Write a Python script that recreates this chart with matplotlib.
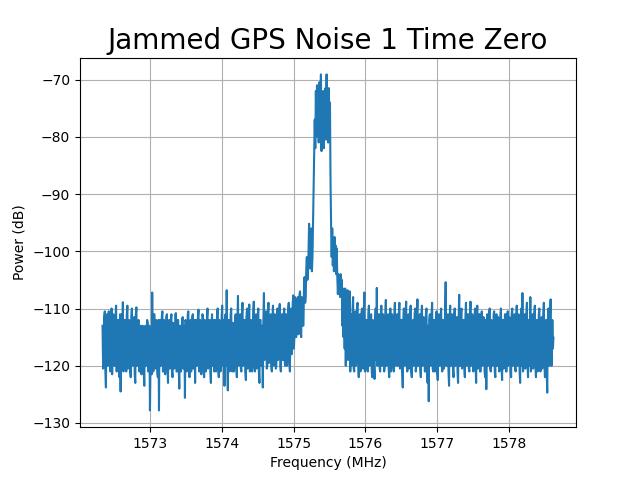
import numpy as np
import matplotlib
matplotlib.use("Agg")
import matplotlib.pyplot as plt

# Frequency span of the sampled spectrum (MHz)
freq_start = 1572.34
freq_stop = 1578.62

# Power readings (dB), left noise floor: ~1572.34 - 1575.16 MHz
noise_left = [
    -113, -120.5, -119, -111.5, -110.5, -121, -123.8, -112, -111, -120, -118, -110.5, -112, -119.5, -121, -112.5, -110, -121.5, -117, -111,
    -113, -120, -120, -111.5, -109.5, -121, -118, -112, -112, -120.5, -122, -111, -124.5, -113, -111, -120, -108.9, -121, -119, -112,
    -112, -120, -121, -111, -109.5, -120.5, -118, -112, -113, -121, -122, -111.5, -110, -120, -119, -112, -111.5, -121.5, -123, -111,
    -109.8, -120, -117, -112.5, -112, -121, -121, -113, -114, -121.5, -120, -113, -115, -121, -123.5, -113.5, -113, -120, -119, -112,
    -112.5, -121, -120, -113, -127.8, -119, -114, -121.5, -107.2, -120, -121, -111, -111, -120.5, -118, -112, -113, -121, -122, -112,
    -127.8, -113, -112, -120, -119, -111.5, -110.5, -121, -121, -112, -114, -121.5, -118, -111.5, -111, -120, -123, -112.5, -112, -120.5,
    -119, -112, -111, -121, -122, -112.5, -113, -120.5, -118, -111, -110.8, -121, -121, -112, -112, -120, -124, -113, -114, -121,
    -119, -112, -111.5, -120.5, -120, -113, -125.6, -112, -113, -121, -118, -111, -110.5, -120, -122, -112.5, -112, -121, -120, -111.5,
    -111, -120.5, -117, -112, -123, -113, -112, -120, -119, -111.5, -110.2, -121, -121, -112, -113, -121.5, -118, -111, -111.5, -120,
    -122, -112, -114, -121, -120, -111.5, -110, -120.5, -119, -112, -112, -121, -123, -113, -111, -120, -117, -112, -121, -112.5,
    -112, -121, -118, -111, -110, -120.5, -122, -112, -113, -121, -120, -111.5, -109.5, -120, -117, -112, -123.5, -113, -111, -120,
    -106.8, -119, -124.3, -112, -112, -121, -119, -111, -110, -120.5, -121, -112.5, -113, -121, -118, -111.5, -111, -120, -122, -112,
    -107.8, -120, -119, -112, -111, -120.5, -121, -111, -109, -120, -117, -112, -112, -121, -122.5, -111.5, -110, -120.5, -118, -111,
    -109.3, -121, -120, -112, -113, -121, -116, -111, -108.8, -120, -121, -112, -111, -120.5, -119, -111.5, -110, -121, -123, -112,
    -112, -120, -118, -113, -123.8, -112, -107.3, -119, -117, -111, -110.5, -120.5, -120, -111, -109, -119.5, -116, -111.5, -111, -120,
    -121, -112, -109.5, -120, -118, -111, -112, -120.5, -120, -111, -110, -119, -117, -110.5, -109.2, -120, -121, -111.5, -111, -119,
    -119, -111, -110, -119.5, -120, -111, -111.5, -120, -118, -110, -109, -119, -121, -110.5, -110, -118, -117, -109, -107.7, -117,
    -115, -108, -109, -115, -114, -108.5, -108, -114.5, -113.5, -107.5, -107, -114, -115, -108, -109, -113, -113, -106, -104.5, -109,
]

# Jammer: rising edge, peak and falling shoulder (~1575.17 - 1575.80 MHz)
jammer_rise = [-108, -103, -101, -105, -104, -100, -95.2, -102, -103, -97, -96, -103.5, -101, -95, -90, -84]
jammer_peak = [
    -77, -82, -72, -80, -71, -79.5, -71.5, -81, -70.5, -80, -72, -69.1, -82.5, -73,
    -80, -72, -82, -72.5, -79, -71.5, -80.5, -69.1, -79.5, -72, -81, -71.5, -80, -74,
]
jammer_fall = [
    -88, -95.5, -101, -96, -102.5, -98, -103.5, -97.5, -103, -99, -104, -99.5, -104.5, -107.5, -104, -107, -104.5, -108,
    -104, -107.5, -105, -113, -106.5, -115, -107, -117, -106.5, -120, -107, -116, -106.8, -119, -108, -118, -107, -121,
]

# Right noise floor: ~1575.81 - 1578.62 MHz
noise_right = [
    -111, -120, -119, -110, -108, -120.5, -121, -111, -110.5, -120, -117, -109.5, -109, -119, -122, -111.5, -111, -121, -118, -110.5,
    -110, -120, -120.5, -111, -107.2, -121, -119, -112, -112, -120.5, -121, -111, -109.5, -120, -118, -111.5, -111, -121, -122, -112,
    -113, -120, -122.3, -112, -110, -119, -106.4, -120, -118, -111, -111, -120.5, -121, -112, -109.5, -120, -117, -111, -112, -121,
    -120, -111.5, -108.5, -120, -119, -112, -111, -120.5, -122, -112, -110, -121, -118, -111, -112.5, -120, -121, -111.5, -109, -120,
    -117, -112, -111, -120, -120, -111, -109, -120.5, -118, -112, -112, -121, -123.8, -112, -110, -120, -119, -111, -108.8, -120,
    -121, -112, -111, -120.5, -117, -111, -109.5, -121, -122, -112.5, -112, -120, -118, -111, -110, -121, -120, -111.5, -108.4, -120,
    -119, -112, -111, -120.5, -122, -111, -109.5, -120, -117, -111.5, -112, -121, -121, -111, -110, -120, -123, -113, -126.2, -112,
    -111, -120, -118, -111, -109, -120.5, -121, -112, -112, -121, -120, -111, -110.5, -121, -122.5, -112, -111, -120, -118, -111.5,
    -110, -120, -121, -112, -112, -120.5, -119, -111, -105.4, -120, -120, -112, -111, -121, -123.5, -112, -109.5, -120, -118, -111,
    -112, -121, -122, -111.5, -110, -120, -119, -112, -111.5, -121, -123, -112, -107.6, -120, -120, -111, -110, -120.5, -118, -112,
    -112, -120, -122, -111.5, -109, -120, -118, -111, -111, -120.5, -121, -112, -108.8, -120, -119, -111, -112, -121, -120, -111.5,
    -110, -120, -123, -112, -109.5, -120.5, -118, -111, -111, -121, -121, -112, -110.5, -120, -119, -111.5, -112, -121, -122, -112,
    -124.1, -112, -111, -120, -119, -111, -110, -120.5, -121, -112, -112.5, -120, -118, -111, -110.5, -121, -122, -112, -111, -120,
    -120, -111.5, -113, -121, -119, -111, -110, -120, -122.5, -112, -112, -120.5, -118, -111, -111, -121, -121, -112, -110.5, -120,
    -119, -111.5, -112, -121, -122, -111, -110, -120, -118, -111.5, -111, -120.5, -121, -112, -109.5, -120, -117, -111, -112, -121,
    -123, -112, -110, -120, -107.3, -121, -120, -112, -111, -120.5, -118, -111, -109, -120, -122, -112, -112, -120, -108, -121,
    -120, -112, -111, -120.5, -118, -111, -109.5, -120, -122, -112, -112, -121, -119, -111, -110, -120, -121, -112, -111.5, -120.5,
    -118, -111, -109, -120, -122, -112.5, -112, -121, -124.7, -112, -110, -120, -119, -111, -108.4, -120, -120, -112, -117, -115.1,
]

power = np.array(noise_left + jammer_rise + jammer_peak + jammer_fall + noise_right)
freq = np.linspace(freq_start, freq_stop, len(power))

fig, ax = plt.subplots(figsize=(6.4, 4.8), dpi=100)
ax.plot(freq, power, color="#1f77b4", linewidth=1.5)
ax.set_title("Jammed GPS Noise 1 Time Zero", fontsize=20)
ax.set_xlabel("Frequency (MHz)")
ax.set_ylabel("Power (dB)")
ax.grid(True)
ax.ticklabel_format(useOffset=False, axis="x")
fig.savefig("out.png", dpi=100)
